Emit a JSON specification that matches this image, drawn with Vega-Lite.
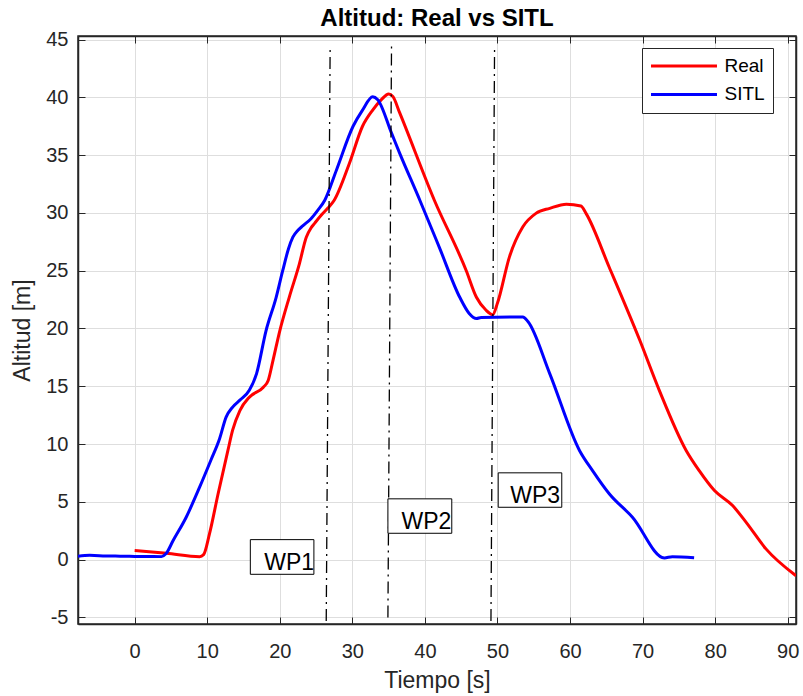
{
  "$schema": "https://vega.github.io/schema/vega-lite/v6.json",
  "width": 718,
  "height": 588,
  "autosize": "none",
  "padding": {"left": 78, "top": 36, "right": 7, "bottom": 72},
  "background": "white",
  "title": {"text": "Altitud: Real vs SITL", "fontSize": 24, "fontWeight": "bold", "font": "Liberation Sans", "color": "#000000", "anchor": "middle", "baseline": "bottom", "offset": 5, "dy": 30},
  "config": {
    "font": "Liberation Sans",
    "view": {"stroke": "#262626", "strokeWidth": 1.5},
    "axis": {"domainColor": "#262626", "tickColor": "#262626", "labelColor": "#262626", "titleColor": "#262626", "labelFont": "Liberation Sans", "titleFont": "Liberation Sans", "titleFontWeight": "normal"},
    "legend": {"orient": "none", "legendX": 564, "legendY": 12, "strokeColor": "#262626", "fillColor": "white", "padding": 8, "symbolType": "M-4,0H4", "symbolSize": 272, "symbolStrokeWidth": 3, "symbolOffset": 24, "labelFontSize": 19, "labelColor": "#000000", "labelFont": "Liberation Sans", "labelOffset": 30.5, "rowPadding": 8.4, "title": null}
  },
  "datasets": {
    "curvas": [
      {"serie": "Real", "t": 0, "alt": 0.78},
      {"serie": "Real", "t": 4.4, "alt": 0.55},
      {"serie": "Real", "t": 8.95, "alt": 0.26},
      {"serie": "Real", "t": 9.5, "alt": 0.43},
      {"serie": "Real", "t": 10.3, "alt": 2.2},
      {"serie": "Real", "t": 11.5, "alt": 5.7},
      {"serie": "Real", "t": 12.85, "alt": 9.45},
      {"serie": "Real", "t": 13.5, "alt": 11.2},
      {"serie": "Real", "t": 14.5, "alt": 12.9},
      {"serie": "Real", "t": 15.8, "alt": 14.06},
      {"serie": "Real", "t": 17.7, "alt": 14.9},
      {"serie": "Real", "t": 18.4, "alt": 15.5},
      {"serie": "Real", "t": 19.05, "alt": 17.2},
      {"serie": "Real", "t": 20, "alt": 19.8},
      {"serie": "Real", "t": 21.3, "alt": 22.7},
      {"serie": "Real", "t": 22.7, "alt": 25.6},
      {"serie": "Real", "t": 23.65, "alt": 27.9},
      {"serie": "Real", "t": 24.3, "alt": 28.7},
      {"serie": "Real", "t": 24.8, "alt": 29.1},
      {"serie": "Real", "t": 25.7, "alt": 29.8},
      {"serie": "Real", "t": 26.6, "alt": 30.4},
      {"serie": "Real", "t": 27.5, "alt": 31.1},
      {"serie": "Real", "t": 29.6, "alt": 34.3},
      {"serie": "Real", "t": 31.4, "alt": 37.5},
      {"serie": "Real", "t": 32.8, "alt": 38.9},
      {"serie": "Real", "t": 34.0, "alt": 39.8},
      {"serie": "Real", "t": 35.0, "alt": 40.3},
      {"serie": "Real", "t": 35.6, "alt": 40.06},
      {"serie": "Real", "t": 36.5, "alt": 38.7},
      {"serie": "Real", "t": 41.3, "alt": 31.1},
      {"serie": "Real", "t": 45.7, "alt": 25.0},
      {"serie": "Real", "t": 47.1, "alt": 22.7},
      {"serie": "Real", "t": 48.4, "alt": 21.6},
      {"serie": "Real", "t": 49.35, "alt": 21.2},
      {"serie": "Real", "t": 50.0, "alt": 22.2},
      {"serie": "Real", "t": 51.65, "alt": 26.2},
      {"serie": "Real", "t": 53.5, "alt": 28.8},
      {"serie": "Real", "t": 55.3, "alt": 29.96},
      {"serie": "Real", "t": 57.2, "alt": 30.4},
      {"serie": "Real", "t": 59.5, "alt": 30.76},
      {"serie": "Real", "t": 61.5, "alt": 30.6},
      {"serie": "Real", "t": 62.2, "alt": 29.96},
      {"serie": "Real", "t": 65.4, "alt": 25.3},
      {"serie": "Real", "t": 69.6, "alt": 19.0},
      {"serie": "Real", "t": 72.3, "alt": 14.65},
      {"serie": "Real", "t": 76.0, "alt": 9.45},
      {"serie": "Real", "t": 77.8, "alt": 7.7},
      {"serie": "Real", "t": 79.9, "alt": 5.98},
      {"serie": "Real", "t": 82.4, "alt": 4.68},
      {"serie": "Real", "t": 84.3, "alt": 3.2},
      {"serie": "Real", "t": 87.0, "alt": 0.93},
      {"serie": "Real", "t": 91.14, "alt": -1.39},
      {"serie": "SITL", "t": -7.81, "alt": 0.3},
      {"serie": "SITL", "t": -6.2, "alt": 0.37},
      {"serie": "SITL", "t": -4, "alt": 0.32},
      {"serie": "SITL", "t": -2, "alt": 0.3},
      {"serie": "SITL", "t": 0, "alt": 0.28},
      {"serie": "SITL", "t": 2, "alt": 0.27},
      {"serie": "SITL", "t": 3.7, "alt": 0.26},
      {"serie": "SITL", "t": 4.3, "alt": 0.5},
      {"serie": "SITL", "t": 5.3, "alt": 1.65},
      {"serie": "SITL", "t": 7.1, "alt": 3.67},
      {"serie": "SITL", "t": 8.95, "alt": 6.27},
      {"serie": "SITL", "t": 10.5, "alt": 8.6},
      {"serie": "SITL", "t": 11.7, "alt": 10.46},
      {"serie": "SITL", "t": 12.6, "alt": 12.33},
      {"serie": "SITL", "t": 13.5, "alt": 13.2},
      {"serie": "SITL", "t": 14.5, "alt": 13.8},
      {"serie": "SITL", "t": 15.8, "alt": 14.65},
      {"serie": "SITL", "t": 16.8, "alt": 16.1},
      {"serie": "SITL", "t": 18.1, "alt": 19.8},
      {"serie": "SITL", "t": 19.5, "alt": 22.7},
      {"serie": "SITL", "t": 20.4, "alt": 25.0},
      {"serie": "SITL", "t": 21.2, "alt": 26.9},
      {"serie": "SITL", "t": 21.8, "alt": 27.9},
      {"serie": "SITL", "t": 22.5, "alt": 28.5},
      {"serie": "SITL", "t": 23.2, "alt": 28.9},
      {"serie": "SITL", "t": 24.3, "alt": 29.5},
      {"serie": "SITL", "t": 25.2, "alt": 30.2},
      {"serie": "SITL", "t": 26.2, "alt": 31.1},
      {"serie": "SITL", "t": 27.8, "alt": 33.7},
      {"serie": "SITL", "t": 30.1, "alt": 37.5},
      {"serie": "SITL", "t": 31.4, "alt": 38.9},
      {"serie": "SITL", "t": 32.8, "alt": 40.06},
      {"serie": "SITL", "t": 33.5, "alt": 39.8},
      {"serie": "SITL", "t": 35.4, "alt": 36.9},
      {"serie": "SITL", "t": 36.5, "alt": 35.2},
      {"serie": "SITL", "t": 39.3, "alt": 31.1},
      {"serie": "SITL", "t": 42.0, "alt": 27.0},
      {"serie": "SITL", "t": 44.8, "alt": 22.7},
      {"serie": "SITL", "t": 46.1, "alt": 21.3},
      {"serie": "SITL", "t": 47.1, "alt": 20.86},
      {"serie": "SITL", "t": 47.75, "alt": 20.95},
      {"serie": "SITL", "t": 53.5, "alt": 21.0},
      {"serie": "SITL", "t": 54.2, "alt": 20.6},
      {"serie": "SITL", "t": 57.2, "alt": 16.1},
      {"serie": "SITL", "t": 61.3, "alt": 9.45},
      {"serie": "SITL", "t": 63.1, "alt": 7.7},
      {"serie": "SITL", "t": 65.4, "alt": 5.7},
      {"serie": "SITL", "t": 68.6, "alt": 3.67},
      {"serie": "SITL", "t": 73.0, "alt": 0.15},
      {"serie": "SITL", "t": 74.1, "alt": 0.26},
      {"serie": "SITL", "t": 77.1, "alt": 0.17}
    ],
    "wplineas": [
      {"wp": "WP1", "t": 26.4, "alt": -5.3},
      {"wp": "WP1", "t": 26.94, "alt": 44.5},
      {"wp": "WP2", "t": 34.9, "alt": -5.0},
      {"wp": "WP2", "t": 35.4, "alt": 44.7},
      {"wp": "WP3", "t": 49.1, "alt": -5.3},
      {"wp": "WP3", "t": 49.6, "alt": 44.5}
    ],
    "wpcajas": [
      {"wp": "WP1", "t1": 15.94, "t2": 24.7, "a1": -1.27, "a2": 1.73, "tt": 21.3, "at": -0.87},
      {"wp": "WP2", "t1": 34.9, "t2": 43.7, "a1": 2.28, "a2": 5.26, "tt": 40.2, "at": 2.66},
      {"wp": "WP3", "t1": 50.1, "t2": 58.86, "a1": 4.53, "a2": 7.51, "tt": 55.2, "at": 4.91}
    ]
  },
  "layer": [
    {
      "data": {"name": "curvas"},
      "mark": {"type": "line", "strokeWidth": 3, "clip": true, "interpolate": "monotone"},
      "encoding": {
        "x": {"field": "t", "type": "quantitative", "scale": {"domain": [-7.81, 91.14], "nice": false, "zero": false},
          "axis": {"orient": "bottom", "values": [0, 10, 20, 30, 40, 50, 60, 70, 80, 90], "grid": true, "gridColor": "#dedede", "gridWidth": 1, "tickSize": -7, "tickWidth": 1, "domainWidth": 1.5, "labelFontSize": 20, "labelPadding": 24, "title": "Tiempo [s]", "titleFontSize": 23, "titlePadding": 8}},
        "y": {"field": "alt", "type": "quantitative", "scale": {"domain": [-5.57, 45.31], "nice": false, "zero": false},
          "axis": {"orient": "left", "values": [-5, 0, 5, 10, 15, 20, 25, 30, 35, 40, 45], "grid": true, "gridColor": "#dedede", "gridWidth": 1, "tickSize": -7, "tickWidth": 1, "domainWidth": 1.5, "labelFontSize": 20, "labelPadding": 17, "labelExpr": "datum.value < 0 ? '-' + abs(datum.value) : datum.label", "title": "Altitud [m]", "titleFontSize": 23, "titlePadding": 11}},
        "color": {"field": "serie", "type": "nominal", "scale": {"domain": ["Real", "SITL"], "range": ["#ff0000", "#0000ff"]}}
      }
    },
    {
      "data": {"name": "wplineas"},
      "mark": {"type": "line", "color": "#000000", "strokeWidth": 1.3, "strokeDash": [12, 5, 2, 5]},
      "encoding": {
        "x": {"field": "t", "type": "quantitative", "axis": {"orient": "top", "values": [0, 10, 20, 30, 40, 50, 60, 70, 80, 90], "grid": false, "labels": false, "tickSize": -7, "tickWidth": 1, "domainWidth": 1.5, "title": null}},
        "y": {"field": "alt", "type": "quantitative", "axis": {"orient": "right", "values": [-5, 0, 5, 10, 15, 20, 25, 30, 35, 40, 45], "grid": false, "labels": false, "tickSize": -7, "tickWidth": 1, "domainWidth": 1.5, "title": null}},
        "detail": {"field": "wp", "type": "nominal"}
      }
    },
    {
      "data": {"name": "wpcajas"},
      "mark": {"type": "rect", "fill": "white", "stroke": "#000000", "strokeWidth": 1},
      "encoding": {
        "x": {"field": "t1", "type": "quantitative", "axis": null},
        "x2": {"field": "t2"},
        "y": {"field": "a1", "type": "quantitative", "axis": null},
        "y2": {"field": "a2"}
      }
    },
    {
      "data": {"name": "wpcajas"},
      "mark": {"type": "text", "fontSize": 23, "font": "Liberation Sans", "color": "#000000", "align": "center", "baseline": "alphabetic"},
      "encoding": {
        "x": {"field": "tt", "type": "quantitative", "axis": null},
        "y": {"field": "at", "type": "quantitative", "axis": null},
        "text": {"field": "wp", "type": "nominal"}
      }
    }
  ],
  "resolve": {"axis": {"x": "independent", "y": "independent"}}
}
